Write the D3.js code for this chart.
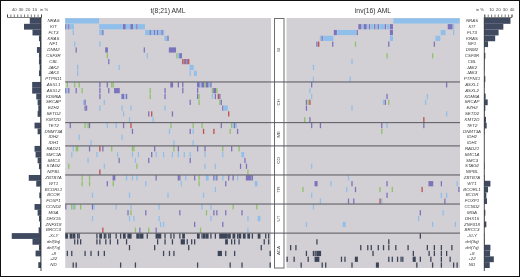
<!DOCTYPE html>
<html>
<head>
<meta charset="utf-8">
<script src="https://cdn.jsdelivr.net/npm/d3@7"></script>
<style>
  html, body { margin: 0; padding: 0; background: #fff; }
  svg { display: block; font-family: "Liberation Sans", Arial, sans-serif; filter: blur(0.3px); }
  .gene { font-size: 4.4px; font-style: italic; fill: #3a3a3a; text-anchor: middle; dominant-baseline: middle; }
  .title { font-size: 6.8px; fill: #333; text-anchor: middle; }
  .group { font-size: 4.4px; fill: #444; text-anchor: middle; dominant-baseline: middle; }
  .pctAxis text { font-size: 4.2px; fill: #444; }
  .pctAxis path, .pctAxis line { stroke: #222; stroke-width: 0.6; }
</style>
</head>
<body>
<svg id="chart" width="520" height="278"></svg>
<script>
const genes = ["NRAS","KIT","FLT3","KRAS","NF1","DNM2","CSF3R","CBL","JAK2","JAK3","PTPN11",
  "ASXL1","ASXL2","KDM6A","SRCAP","EZH2","SETD2","KMT2D",
  "TET2","DNMT3A","IDH2","IDH1",
  "RAD21","SMC1A","SMC3","STAG2","NIPBL",
  "ZBTB7A","WT1","BCORL1","BCOR","FOXP1",
  "CCND2","MGA","DHX15","ZNF318","BRCC3",
  "-X/-Y","del(9q)","del(7q)","+8","+22","ND"];
const groups = [["SI","NRAS","PTPN11"],["CH","ASXL1","KMT2D"],["ME","TET2","IDH1"],["CO","RAD21","NIPBL"],
  ["TR","ZBTB7A","FOXP1"],["UT","CCND2","BRCC3"],["ACA","-X/-Y","ND"]];

const tPatients = 139;
const invPatients = 99;

// % of patients, same order as genes
const tPct = [16.5,25,12.5,3,1.5,6,3,3,2,3,0.5,13,13,7,5,4,5,1,9.5,5,1.5,1.5,9.5,8,5,3,1,18,7,1,2.5,0.5,9.5,5,3,1.5,3.5,43,12.5,3,8,0.5,4];
const invPct = [38.5,28,21,16,5.5,0,1.5,0.5,0.5,0,1.5,0.5,0,2,5,1.5,0.5,2.5,3.5,0.5,0,0,0,0,0,0.5,0,0.5,9,5.5,3,4,0,1.5,0.5,3,0,0.5,0.5,9,8.5,14,8];

const mutColor = { b: "#8fbfea", p: "#7c74ba", g: "#8fc06a", r: "#bd4f4c", k: "#3d4559" };

// gene, then [first patient, type, number of patients]
const tMuts = [
  ["NRAS", [[0,"b",23]]],
  ["KIT", [[0,"p"],[1,"b"],[2,"p"],[3,"b"],[4,"b",2],[23,"b",16],[39,"p",2],[41,"b",3],[44,"p",2],[46,"b",2],[48,"p"],[49,"b",5]]],
  ["FLT3", [[5,"b"],[23,"b",2],[25,"p"],[54,"b",3],[57,"p"],[58,"b",2],[60,"p"],[61,"b"],[62,"p"],[63,"b",2],[65,"p"],[66,"b"]]],
  ["KRAS", [[67,"b",2],[69,"p"]]],
  ["NF1", [[6,"b"],[23,"b"]]],
  ["DNM2", [[7,"p"],[27,"p",2],[53,"p"],[70,"p",5]]],
  ["CSF3R", [[28,"g"],[55,"b"],[75,"g"],[76,"b"],[77,"p",2]]],
  ["CBL", [[29,"p"],[79,"r"],[80,"p"],[81,"r"],[82,"p"],[83,"r"]]],
  ["JAK2", [[8,"b"],[36,"b"],[84,"b",3]]],
  ["JAK3", [[8,"b"],[84,"b"],[87,"b",2]]],
  ["PTPN11", []],
  ["ASXL1", [[1,"g"],[6,"g"],[9,"g"],[23,"p"],[28,"p"],[31,"g"],[32,"g"],[71,"p",2],[76,"p"],[79,"p"],[89,"p",2],[91,"b"],[92,"p",2],[94,"g"],[95,"p",2],[97,"b"],[98,"p"]]],
  ["ASXL2", [[0,"p"],[1,"b"],[2,"p"],[7,"p"],[11,"g"],[23,"p"],[29,"p"],[33,"p",4],[57,"g"],[67,"p"],[79,"p"],[89,"p"],[99,"g"],[100,"p",2],[102,"g"]]],
  ["KDM6A", [[23,"p"],[38,"p",2],[40,"b"],[41,"p"],[57,"g"],[67,"p"],[89,"p"],[90,"g"],[99,"b"],[101,"p"],[103,"r"],[104,"p"]]],
  ["SRCAP", [[12,"b"],[13,"p"],[26,"b"],[84,"p"],[90,"g"],[104,"g"],[105,"p"]]],
  ["EZH2", [[13,"p"],[14,"p"],[23,"b"],[38,"b"],[44,"b"],[67,"b"],[106,"p"],[107,"b",3]]],
  ["SETD2", [[39,"b"],[56,"p"],[58,"r"],[72,"p"],[110,"r"]]],
  ["KMT2D", [[43,"b"],[59,"b"]]],
  ["TET2", [[3,"p"],[13,"g"],[15,"g"],[16,"p"],[28,"b"],[34,"b"],[39,"p"],[44,"r"],[71,"g"],[86,"g"],[92,"g"],[105,"p"],[112,"g"],[113,"b"],[114,"p"],[115,"b"]]],
  ["DNMT3A", [[45,"p"],[70,"b"],[84,"p"],[86,"b"],[93,"r"],[100,"r"],[111,"g"],[116,"p"]]],
  ["IDH2", [[9,"b"],[38,"b"]]],
  ["IDH1", [[17,"b"],[73,"b"],[86,"b"]]],
  ["RAD21", [[5,"b"],[7,"g"],[8,"g"],[16,"p"],[23,"r"],[25,"p"],[31,"g"],[45,"g"],[46,"g"],[60,"p"],[73,"g"],[76,"p"],[89,"p"],[94,"p"],[106,"g"],[112,"p"],[117,"g"]]],
  ["SMC1A", [[4,"b"],[21,"b"],[35,"b"],[45,"b"],[49,"b"],[58,"p"],[61,"b"],[66,"b"],[72,"b"],[76,"b"],[80,"b"],[84,"b"],[94,"b"],[106,"b"],[119,"b",2]]],
  ["SMC3", [[15,"b"],[36,"p"],[47,"b"],[56,"p"],[84,"p"],[121,"p"]]],
  ["STAG2", [[2,"g"],[26,"b"],[48,"g"],[94,"b"],[101,"b"],[118,"p"],[122,"p"]]],
  ["NIPBL", [[23,"r"],[123,"g"]]],
  ["ZBTB7A", [[11,"g"],[16,"g"],[32,"p",2],[41,"b"],[45,"b"],[48,"b"],[61,"p"],[76,"p"],[77,"p"],[81,"b"],[87,"p"],[90,"g"],[95,"b",2],[100,"p"],[101,"b"],[102,"p"],[106,"b"],[110,"p"],[113,"p"],[116,"b"],[122,"p",4],[126,"p"]]],
  ["WT1", [[11,"g"],[16,"g"],[28,"p"],[32,"g"],[54,"b"],[78,"b"],[90,"g"],[108,"p"],[128,"b",2]]],
  ["BCORL1", [[101,"b"]]],
  ["BCOR", [[18,"b"],[43,"b"],[69,"b"],[93,"b"]]],
  ["FOXP1", []],
  ["CCND2", [[0,"p"],[4,"g"],[5,"b"],[6,"g"],[10,"g"],[18,"p"],[19,"b"],[34,"b"],[44,"b"],[63,"b"],[92,"b"],[98,"b"],[113,"g"],[129,"g"]]],
  ["MGA", [[42,"p"],[44,"g"],[54,"p"],[77,"p"],[95,"g"],[100,"p"],[102,"p"],[108,"p"],[119,"p"]]],
  ["DHX15", [[18,"b"],[43,"b"],[46,"b"],[63,"b"],[98,"b"],[123,"b"],[130,"b",2]]],
  ["ZNF318", [[64,"b"],[66,"b"],[87,"p"],[106,"p"]]],
  ["BRCC3", [[25,"r"],[47,"g"],[50,"p"],[56,"g"],[61,"p"],[91,"g"],[123,"b"]]],
  ["-X/-Y", [[0,"k",2],[3,"k",2],[5,"k",2],[8,"k"],[9,"k"],[21,"k"],[23,"k",2],[26,"k"],[27,"k"],[29,"k"],[30,"k"],[34,"k"],[37,"k"],[39,"k",2],[42,"k",3],[48,"k",2],[50,"k",3],[55,"k"],[61,"k",4],[67,"k"],[71,"k"],[73,"k"],[77,"k"],[79,"k",2],[89,"k",2],[92,"k"],[93,"k",2],[95,"k",2],[98,"k"],[101,"k"],[104,"k",6],[110,"k",2],[113,"k",2],[116,"k"],[117,"k",2],[120,"k",2],[123,"k",2],[126,"k"],[130,"k",2],[135,"k"],[137,"k"]]],
  ["del(9q)", [[6,"k"],[8,"k"],[10,"k"],[21,"k"],[23,"k"],[27,"k"],[30,"k"],[35,"k"],[41,"k"],[62,"k"],[67,"k"],[72,"k"],[78,"k",3],[82,"k"],[85,"k"],[87,"k"],[108,"k",2],[112,"k"],[114,"k"],[117,"k"],[134,"k"],[137,"k"]]],
  ["del(7q)", [[43,"k"],[60,"k"],[83,"k"],[132,"k"]]],
  ["+8", [[1,"k"],[4,"k"],[13,"k"],[17,"k"],[22,"k"],[26,"k"],[66,"k"],[70,"k"],[73,"k"],[103,"k",3],[108,"k"],[114,"k"],[138,"k"]]],
  ["+22", []],
  ["ND", [[5,"k"],[7,"k"],[37,"k"],[47,"k"],[89,"k"],[111,"k"],[119,"k"],[138,"k"]]]
];

const invMuts = [
  ["NRAS", [[61,"b",38]]],
  ["KIT", [[41,"p",2],[43,"b"],[44,"p",2],[46,"b"],[47,"p"],[48,"b",2],[50,"p"],[51,"b"],[52,"p"],[53,"b",3],[56,"p"],[57,"b",2],[59,"p",2],[92,"p",3],[95,"b",1]]],
  ["FLT3", [[27,"p",2],[29,"b",11],[40,"p"],[59,"p",2],[88,"b",3],[95,"b"]]],
  ["KRAS", [[19,"b"],[20,"p"],[21,"b",6],[59,"b",2],[85,"b",3]]],
  ["NF1", [[18,"r"],[17,"p"],[26,"p"],[39,"g"],[58,"p"],[84,"p"]]],
  ["DNM2", []],
  ["CSF3R", [[57,"g"],[83,"g"]]],
  ["CBL", [[37,"b"]]],
  ["JAK2", [[15,"b"]]],
  ["JAK3", []],
  ["PTPN11", [[15,"b"],[36,"b"]]],
  ["ASXL1", [[14,"p"],[91,"p"]]],
  ["ASXL2", [[13,"b"]]],
  ["KDM6A", [[14,"b"],[57,"p"],[80,"b"]]],
  ["SRCAP", [[11,"p"],[12,"g"],[13,"r"],[55,"b"],[56,"p"],[58,"g"],[79,"b"]]],
  ["EZH2", [[11,"p"],[37,"b"]]],
  ["SETD2", [[91,"b"]]],
  ["KMT2D", [[10,"g"],[13,"p"],[78,"r"]]],
  ["TET2", [[14,"p"],[19,"p"],[54,"p"],[57,"b"],[78,"p"]]],
  ["DNMT3A", [[54,"g"]]],
  ["IDH2", []],
  ["IDH1", []],
  ["RAD21", []],
  ["SMC1A", []],
  ["SMC3", []],
  ["STAG2", [[14,"b"]]],
  ["NIPBL", []],
  ["ZBTB7A", [[35,"b"]]],
  ["WT1", [[16,"p",2],[25,"b"],[37,"p"],[57,"p"],[81,"p",3],[88,"p"],[97,"b"]]],
  ["BCORL1", [[9,"g"],[34,"b"],[39,"p"],[53,"g"],[60,"g"],[77,"r"],[98,"p"]]],
  ["BCOR", [[14,"b"],[57,"p"],[88,"b"],[91,"b"]]],
  ["FOXP1", [[19,"b"],[35,"p"],[38,"p"],[53,"r"],[54,"b"],[90,"p"]]],
  ["CCND2", [[15,"b"]]],
  ["MGA", [[76,"p"],[89,"b"]]],
  ["DHX15", [[75,"b"]]],
  ["ZNF318", [[11,"b"],[32,"b",2],[83,"b"],[96,"b"]]],
  ["BRCC3", []],
  ["-X/-Y", [[76,"k"]]],
  ["del(9q)", [[17,"k"],[58,"k"]]],
  ["del(7q)", [[2,"k"],[5,"k"],[42,"k"],[46,"k"],[48,"k"],[52,"k"],[55,"k"],[58,"k"],[62,"k"],[69,"k"],[80,"k"],[84,"k"],[88,"k"],[94,"k"]]],
  ["+8", [[11,"k"],[15,"k"],[16,"k"],[17,"k",3],[49,"k"],[72,"k"],[81,"k"],[84,"k"],[88,"k"],[91,"k"]]],
  ["+22", [[0,"k"],[4,"k"],[12,"k"],[16,"k",3],[31,"k"],[33,"k"],[39,"k",2],[58,"k"],[60,"k"],[63,"k"],[65,"k"],[66,"k"],[72,"k",2],[76,"k"],[82,"k"],[88,"k"],[93,"k"]]],
  ["ND", [[8,"k"],[20,"k"],[22,"k"],[37,"k"],[51,"k",2],[74,"k"],[83,"k"],[88,"k"],[95,"k"],[97,"k"]]]
];

const svg = d3.select("#chart");

// frame of the figure
svg.append("rect").attr("x", 0.5).attr("y", 0.5).attr("width", 519).attr("height", 276)
  .attr("fill", "none").attr("stroke", "#111").attr("stroke-width", 1);

const y = d3.scaleBand().domain(genes).range([18, 268]);
const xT = d3.scaleBand().domain(d3.range(tPatients)).range([65.2, 271]);
const xInv = d3.scaleBand().domain(d3.range(invPatients)).range([286.5, 460]);

// one panel of the mutation matrix
function drawPanel(x, muts, gap) {
  let rng = x.range();
  svg.append("rect").attr("x", rng[0]).attr("y", y.range()[0])
    .attr("width", rng[1] - rng[0]).attr("height", y.range()[1] - y.range()[0])
    .attr("fill", "#d3d0d5");

  let cells = muts.flatMap(([gene, list]) => list.map(([col, type, n]) => ({ gene, col, type, n: n || 1 })));
  svg.append("g").selectAll("rect").data(cells).join("rect")
    .attr("x", (d) => x(d.col))
    .attr("y", (d) => y(d.gene) + 0.3)
    .attr("width", (d) => x.step() * d.n - gap)
    .attr("height", y.bandwidth() - 0.6)
    .attr("fill", (d) => mutColor[d.type]);
}
drawPanel(xT, tMuts, 0.2);
drawPanel(xInv, invMuts, 0.45);

// middle box with the group names
const boxX = 274.5, boxW = 9.5;
svg.append("rect").attr("x", boxX).attr("y", 18.5).attr("width", boxW).attr("height", 249.5)
  .attr("fill", "#fff").attr("stroke", "#6f6f6f").attr("stroke-width", 1);

groups.forEach(([name, first, last], i) => {
  let top = y(first), bottom = y(last) + y.bandwidth();
  svg.append("text").attr("class", "group")
    .attr("transform", `translate(${boxX + boxW / 2},${(top + bottom) / 2}) rotate(-90)`)
    .text(name);
  // separator between groups
  if (i < groups.length - 1) {
    svg.append("line").attr("x1", xT.range()[0]).attr("x2", xInv.range()[1])
      .attr("y1", bottom).attr("y2", bottom)
      .attr("stroke", "#55555c").attr("stroke-width", 1);
  }
});

// gene names on both sides
[53.5, 472].forEach((lx) => {
  svg.append("g").selectAll("text").data(genes).join("text")
    .attr("class", "gene")
    .attr("x", lx)
    .attr("y", (d) => y(d) + y.bandwidth() / 2)
    .text((d) => d);
});

// frequency bars
const barLeft = d3.scaleLinear().domain([0, 50]).range([41, 7]);
const barRight = d3.scaleLinear().domain([0, 40]).range([484.3, 511.5]);
const barColor = "#3f4a60";

svg.append("g").selectAll("rect").data(tPct).join("rect")
  .attr("x", (d) => barLeft(d))
  .attr("y", (d, i) => y(genes[i]))
  .attr("width", (d) => barLeft(0) - barLeft(d))
  .attr("height", y.bandwidth())
  .attr("fill", barColor);

svg.append("g").selectAll("rect").data(invPct).join("rect")
  .attr("x", barRight(0))
  .attr("y", (d, i) => y(genes[i]))
  .attr("width", (d) => barRight(d) - barRight(0))
  .attr("height", y.bandwidth())
  .attr("fill", barColor);

// top axes and the vertical baselines
const fmtTick = (d) => (d % 10 === 0 && d !== 0 && d !== 50 ? d : "");
svg.append("g").attr("class", "pctAxis").attr("transform", "translate(0,17)")
  .call(d3.axisTop(barLeft).tickValues(d3.range(0, 51, 5)).tickSize(2.5).tickPadding(3.5).tickFormat(fmtTick));
svg.append("g").attr("class", "pctAxis").attr("transform", "translate(0,17)")
  .call(d3.axisTop(barRight).tickValues(d3.range(0, 41, 5)).tickSize(2.5).tickPadding(3.5).tickFormat(fmtTick));
svg.selectAll(".pctAxis .domain").attr("stroke-width", 0.6);

[barLeft(0), barRight(0)].forEach((bx) => {
  svg.append("line").attr("x1", bx).attr("x2", bx).attr("y1", 17).attr("y2", 271)
    .attr("stroke", "#222").attr("stroke-width", 0.8);
});

svg.append("text").attr("x", 40).attr("y", 11).attr("font-size", 4.2).attr("fill", "#444").text("in %");
svg.append("text").attr("x", 480).attr("y", 11).attr("font-size", 4.2).attr("fill", "#444")
  .attr("text-anchor", "middle").text("in %");

// panel titles
svg.append("text").attr("class", "title").attr("x", 168).attr("y", 12.7).text("t(8;21) AML");
svg.append("text").attr("class", "title").attr("x", 373).attr("y", 12.7).text("inv(16) AML");
</script>
</body>
</html>
